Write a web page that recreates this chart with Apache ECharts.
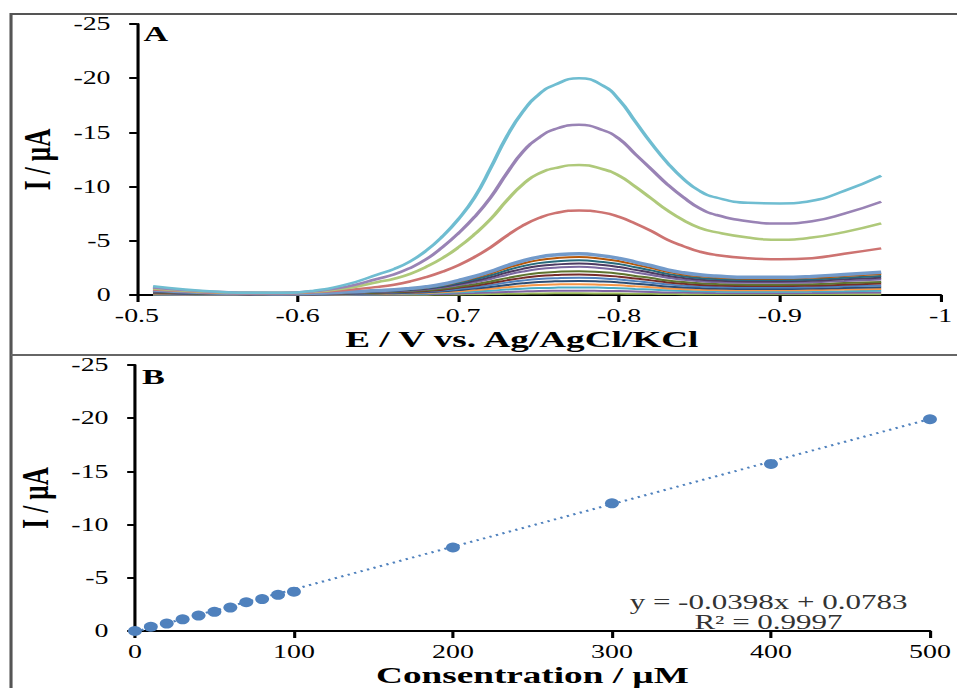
<!DOCTYPE html>
<html>
<head>
<meta charset="utf-8">
<script src="https://cdn.jsdelivr.net/npm/echarts@6/dist/echarts.min.js"></script>
<style>
html,body{margin:0;padding:0;background:#fff;overflow:hidden;}
/* the original figure is stretched sideways, so the chart is drawn narrow and widened */
#chart{width:617px;height:688px;transform:scaleX(1.551);transform-origin:0 0;}
</style>
</head>
<body>
<div id="chart"></div>
<script>
// A: potential grid (V) shared by every voltammogram
var potentials = [-0.51,-0.53,-0.55,-0.57,-0.59,-0.61,-0.63,-0.65,-0.66,-0.67,-0.68,-0.69,-0.70,-0.71,-0.72,-0.73,-0.74,-0.75,-0.76,-0.775,-0.79,-0.80,-0.81,-0.82,-0.83,-0.84,-0.85,-0.86,-0.88,-0.90,-0.92,-0.94,-0.963];

// current (uA), low cluster
var c100 = [-0.46,-0.30,-0.19,-0.15,-0.11,-0.15,-0.27,-0.42,-0.49,-0.61,-0.76,-0.99,-1.33,-1.71,-2.17,-2.70,-3.15,-3.50,-3.69,-3.80,-3.61,-3.38,-3.04,-2.70,-2.32,-2.05,-1.86,-1.75,-1.63,-1.63,-1.71,-1.90,-2.09];
var c90  = [-0.42,-0.28,-0.18,-0.14,-0.11,-0.14,-0.25,-0.39,-0.46,-0.56,-0.70,-0.91,-1.23,-1.58,-2.00,-2.49,-2.91,-3.22,-3.40,-3.50,-3.33,-3.12,-2.80,-2.49,-2.14,-1.89,-1.72,-1.61,-1.51,-1.51,-1.58,-1.75,-1.93];
var c80  = [-0.38,-0.26,-0.16,-0.13,-0.10,-0.13,-0.22,-0.35,-0.42,-0.51,-0.64,-0.83,-1.12,-1.44,-1.82,-2.27,-2.66,-2.94,-3.10,-3.20,-3.04,-2.85,-2.56,-2.27,-1.95,-1.73,-1.57,-1.47,-1.38,-1.38,-1.44,-1.60,-1.76];
var c70  = [-0.35,-0.23,-0.15,-0.12,-0.09,-0.12,-0.20,-0.32,-0.38,-0.46,-0.58,-0.75,-1.02,-1.31,-1.65,-2.06,-2.41,-2.67,-2.81,-2.90,-2.76,-2.58,-2.32,-2.06,-1.77,-1.57,-1.42,-1.33,-1.25,-1.25,-1.31,-1.45,-1.60];
var c60  = [-0.31,-0.21,-0.13,-0.10,-0.08,-0.10,-0.18,-0.29,-0.34,-0.42,-0.52,-0.68,-0.91,-1.17,-1.48,-1.85,-2.16,-2.39,-2.52,-2.60,-2.47,-2.31,-2.08,-1.85,-1.59,-1.40,-1.27,-1.20,-1.12,-1.12,-1.17,-1.30,-1.43];
var c50  = [-0.26,-0.18,-0.11,-0.09,-0.07,-0.09,-0.15,-0.24,-0.29,-0.35,-0.44,-0.57,-0.77,-0.99,-1.25,-1.56,-1.83,-2.02,-2.13,-2.20,-2.09,-1.96,-1.76,-1.56,-1.34,-1.19,-1.08,-1.01,-0.95,-0.95,-0.99,-1.10,-1.21];
var c45  = [-0.23,-0.15,-0.10,-0.08,-0.06,-0.08,-0.13,-0.21,-0.25,-0.30,-0.38,-0.49,-0.67,-0.86,-1.08,-1.35,-1.58,-1.75,-1.84,-1.90,-1.81,-1.69,-1.52,-1.35,-1.16,-1.03,-0.93,-0.87,-0.82,-0.82,-0.86,-0.95,-1.05];
var c40  = [-0.19,-0.13,-0.08,-0.06,-0.05,-0.06,-0.11,-0.18,-0.21,-0.26,-0.32,-0.42,-0.56,-0.72,-0.91,-1.14,-1.33,-1.47,-1.55,-1.60,-1.52,-1.42,-1.28,-1.14,-0.98,-0.86,-0.78,-0.74,-0.69,-0.69,-0.72,-0.80,-0.88];
var c30  = [-0.16,-0.10,-0.07,-0.05,-0.04,-0.05,-0.09,-0.14,-0.17,-0.21,-0.26,-0.34,-0.46,-0.59,-0.74,-0.92,-1.08,-1.20,-1.26,-1.30,-1.24,-1.16,-1.04,-0.92,-0.79,-0.70,-0.64,-0.60,-0.56,-0.56,-0.59,-0.65,-0.72];
var c20  = [-0.12,-0.08,-0.05,-0.04,-0.03,-0.04,-0.07,-0.11,-0.13,-0.16,-0.20,-0.26,-0.35,-0.45,-0.57,-0.71,-0.83,-0.92,-0.97,-1.00,-0.95,-0.89,-0.80,-0.71,-0.61,-0.54,-0.49,-0.46,-0.43,-0.43,-0.45,-0.50,-0.55];
var c10  = [-0.08,-0.06,-0.04,-0.03,-0.02,-0.03,-0.05,-0.08,-0.09,-0.11,-0.14,-0.18,-0.25,-0.32,-0.40,-0.50,-0.58,-0.64,-0.68,-0.70,-0.67,-0.62,-0.56,-0.50,-0.43,-0.38,-0.34,-0.32,-0.30,-0.30,-0.32,-0.35,-0.39];
var c5   = [-0.05,-0.03,-0.02,-0.02,-0.01,-0.02,-0.03,-0.04,-0.05,-0.06,-0.08,-0.10,-0.14,-0.18,-0.23,-0.28,-0.33,-0.37,-0.39,-0.40,-0.38,-0.36,-0.32,-0.28,-0.24,-0.22,-0.20,-0.18,-0.17,-0.17,-0.18,-0.20,-0.22];
var c0   = [-0.02,-0.01,-0.01,-0.01,0,-0.01,-0.01,-0.02,-0.02,-0.02,-0.03,-0.04,-0.05,-0.07,-0.09,-0.11,-0.12,-0.14,-0.15,-0.15,-0.14,-0.13,-0.12,-0.11,-0.09,-0.08,-0.07,-0.07,-0.06,-0.06,-0.07,-0.08,-0.08];
// high concentrations
var c200 = [-0.5,-0.35,-0.2,-0.15,-0.15,-0.25,-0.45,-0.75,-0.95,-1.25,-1.65,-2.15,-2.75,-3.5,-4.4,-5.45,-6.4,-7.1,-7.55,-7.8,-7.6,-7.2,-6.6,-5.9,-5.1,-4.5,-4.0,-3.7,-3.4,-3.3,-3.4,-3.8,-4.3];
var c300 = [-0.6,-0.4,-0.25,-0.2,-0.2,-0.3,-0.62,-1.2,-1.5,-1.95,-2.6,-3.4,-4.4,-5.6,-7.0,-8.7,-10.2,-11.2,-11.7,-12.0,-11.6,-11.0,-10.0,-8.9,-7.8,-6.9,-6.2,-5.8,-5.3,-5.1,-5.3,-5.8,-6.6];
var c400 = [-0.7,-0.45,-0.3,-0.2,-0.2,-0.35,-0.75,-1.5,-1.9,-2.5,-3.3,-4.4,-5.7,-7.2,-9.0,-11.2,-13.2,-14.5,-15.3,-15.7,-15.2,-14.4,-13.0,-11.6,-10.2,-9.0,-8.0,-7.4,-6.8,-6.6,-6.8,-7.5,-8.6];
var c500 = [-0.8,-0.5,-0.3,-0.2,-0.2,-0.4,-0.95,-1.9,-2.4,-3.1,-4.1,-5.4,-7.0,-9.0,-11.7,-14.6,-16.9,-18.5,-19.4,-20.0,-19.3,-18.0,-16.0,-14.0,-12.2,-10.7,-9.6,-9.0,-8.5,-8.45,-8.7,-9.6,-11.0];

// B: calibration
var conc = [0,10,20,30,40,50,60,70,80,90,100,200,300,400,500];
var peakI = [0,-0.4,-0.7,-1.1,-1.45,-1.8,-2.2,-2.7,-3.0,-3.4,-3.7,-7.85,-12.0,-15.7,-19.9];
var trendX = [0, 500];
var trendY = [0.0783, -19.9217];

var yTicks = ['-25','-20','-15','-10','-5','0'];

var serif = 'Liberation Serif';

function pairs(xs, ys) {
    return xs.map(function (x, i) { return [x, ys[i]]; });
}

var curves = [
    {d: c0,   color: '#9BBB59', w: 2},
    {d: c5,   color: '#8064A2', w: 2},
    {d: c10,  color: '#4BACC6', w: 2},
    {d: c20,  color: '#F79646', w: 2},
    {d: c30,  color: '#2C4D75', w: 2},
    {d: c40,  color: '#4F81BD', w: 2},
    {d: c45,  color: '#772C2A', w: 2},
    {d: c50,  color: '#5F7530', w: 2},
    {d: c60,  color: '#7B68A0', w: 2},
    {d: c70,  color: '#4D3B62', w: 2},
    {d: c80,  color: '#276A7C', w: 2},
    {d: c90,  color: '#B65708', w: 2},
    {d: c100, color: '#729ACA', w: 3.5},
    {d: c200, color: '#CD7371', w: 2.5},
    {d: c300, color: '#AFC97A', w: 2.5},
    {d: c400, color: '#9983B5', w: 2.5},
    {d: c500, color: '#6FBDD1', w: 2.5}
];

var series = curves.map(function (c) {
    return {
        type: 'line', xAxisIndex: 0, yAxisIndex: 0,
        data: pairs(potentials, c.d),
        smooth: 0.5, showSymbol: false, silent: true,
        lineStyle: {color: c.color, width: c.w}
    };
});

series.push({
    type: 'line', xAxisIndex: 1, yAxisIndex: 1,
    data: pairs(trendX, trendY),
    showSymbol: false, silent: true,
    lineStyle: {color: '#4F81BD', width: 2, type: [1.5, 3]}
});
series.push({
    type: 'scatter', xAxisIndex: 1, yAxisIndex: 1,
    data: pairs(conc, peakI),
    symbol: 'circle', symbolSize: [9, 10],
    itemStyle: {color: '#4F81BD', opacity: 1}
});

var axisLine = {lineStyle: {color: '#000', width: 2}};
var labelStyle = {color: '#000', fontFamily: serif, fontSize: 18};
var nameStyle = {color: '#000', fontFamily: serif, fontSize: 24, fontWeight: 'bold'};

function yAxisOf(grid) {
    return {
        type: 'value', gridIndex: grid, min: -25, max: 0, interval: 5, inverse: true,
        name: 'I / µA', nameLocation: 'middle', nameGap: 49, nameRotate: 90,
        nameTextStyle: {color: '#000', fontFamily: serif, fontSize: 25, fontWeight: 'bold'},
        axisLine: axisLine,
        axisTick: {length: 5, lineStyle: {color: '#000', width: 2}},
        axisLabel: Object.assign({margin: 17, formatter: function (v) { return yTicks[(v + 25) / 5]; }}, labelStyle),
        splitLine: {show: false}
    };
}

var option = {
    backgroundColor: '#fff',
    animation: false,
    grid: [
        {left: 88.3, top: 24, width: 519.7, height: 271},
        {left: 87, top: 365, width: 512.6, height: 271}
    ],
    xAxis: [
        {
            type: 'value', gridIndex: 0, min: -1, max: -0.5, interval: 0.1, inverse: true,
            name: 'E / V vs. Ag/AgCl/KCl', nameLocation: 'middle', nameGap: 32,
            nameTextStyle: Object.assign({padding: [0, 22, 0, 0]}, nameStyle),
            axisLine: axisLine,
            axisTick: {length: 7, lineStyle: {color: '#000', width: 2}},
            axisLabel: Object.assign({margin: 12, formatter: function (v) { return String(+v.toFixed(1)); }}, labelStyle),
            splitLine: {show: false}
        },
        {
            type: 'value', gridIndex: 1, min: 0, max: 500, interval: 100,
            name: 'Consentration / µM', nameLocation: 'middle', nameGap: 32,
            nameTextStyle: nameStyle,
            axisLine: axisLine,
            axisTick: {length: 7, lineStyle: {color: '#000', width: 2}},
            axisLabel: Object.assign({margin: 12}, labelStyle),
            splitLine: {show: false}
        }
    ],
    yAxis: [yAxisOf(0), yAxisOf(1)],
    graphic: [
        {type: 'rect', shape: {x: 7.1, y: 14, width: 640, height: 700}, style: {fill: null, stroke: '#555', lineWidth: 2}, silent: true},
        {type: 'line', shape: {x1: 7.1, y1: 355, x2: 620, y2: 355}, style: {stroke: '#666', lineWidth: 2}, silent: true},
        {type: 'text', left: 92.5, top: 22, style: {text: 'A', font: 'bold 22px "Liberation Serif"', fill: '#000'}},
        {type: 'text', left: 91.5, top: 365, style: {text: 'B', font: 'bold 22px "Liberation Serif"', fill: '#000'}},
        {type: 'text', x: 495.5, y: 602, style: {text: 'y = -0.0398x + 0.0783', font: '20px "Liberation Serif"', fill: '#333', align: 'center', verticalAlign: 'middle'}},
        {type: 'text', x: 495.5, y: 622, style: {text: 'R² = 0.9997', font: '20px "Liberation Serif"', fill: '#333', align: 'center', verticalAlign: 'middle'}}
    ],
    series: series
};

var myChart = echarts.init(document.getElementById('chart'), null, {renderer: 'svg'});
myChart.setOption(option);
</script>
</body>
</html>
